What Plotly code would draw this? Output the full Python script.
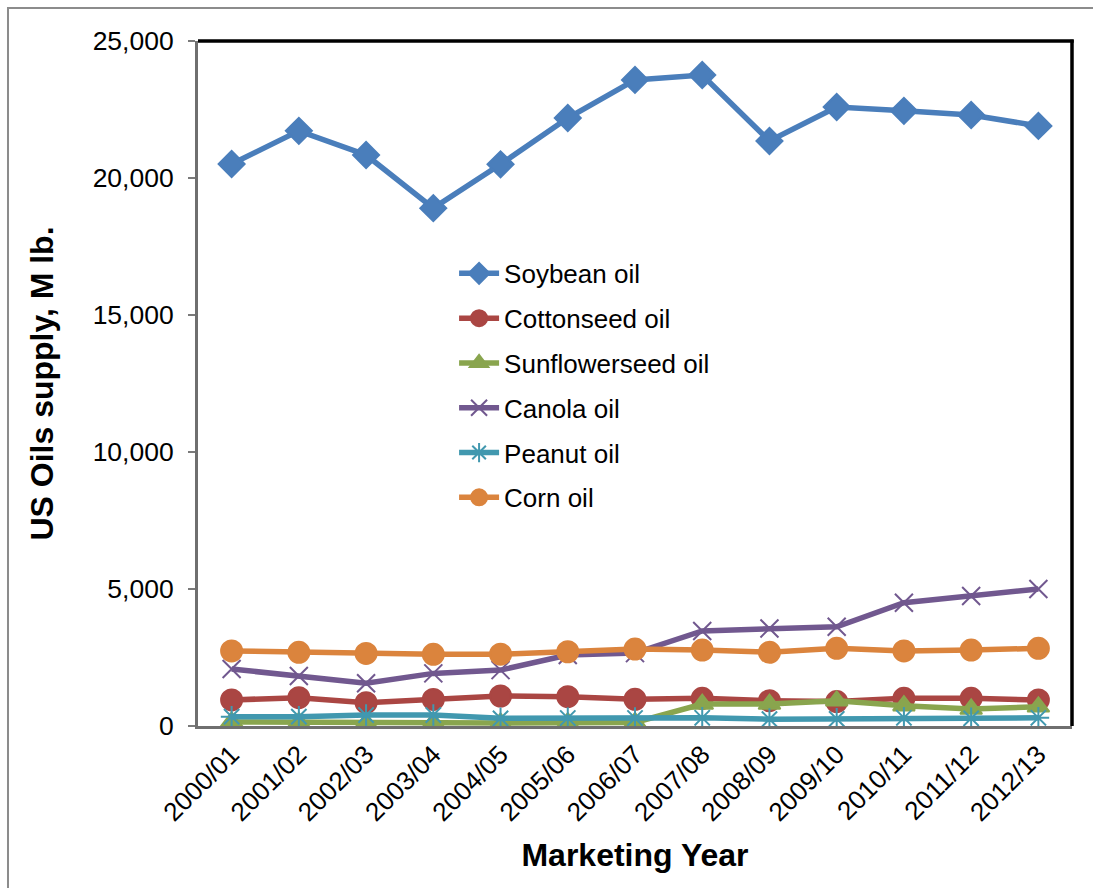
import plotly.graph_objects as go

years = ["2000/01", "2001/02", "2002/03", "2003/04", "2004/05", "2005/06", "2006/07",
         "2007/08", "2008/09", "2009/10", "2010/11", "2011/12", "2012/13"]

soybean = [20510, 21720, 20840, 18900, 20500, 22190, 23580, 23760, 21350, 22590, 22450, 22300, 21900]
cottonseed = [950, 1035, 850, 970, 1095, 1070, 975, 1010, 925, 890, 1010, 1010, 950]
sunflower = [150, 130, 110, 120, 110, 120, 130, 800, 800, 920, 740, 620, 700]
canola = [2080, 1825, 1560, 1920, 2040, 2590, 2660, 3470, 3560, 3620, 4500, 4745, 5000]
peanut = [340, 340, 400, 400, 280, 290, 290, 300, 250, 260, 300, 280, 300]
corn = [2740, 2690, 2650, 2615, 2620, 2710, 2810, 2770, 2690, 2835, 2740, 2770, 2835]

series = [
    ("Soybean oil", soybean, "#4A7EBB", "diamond", 20),
    ("Cottonseed oil", cottonseed, "#AA4643", "circle", 21),
    ("Sunflowerseed oil", sunflower, "#89A54E", "triangle-up", 19),
    ("Canola oil", canola, "#71588F", "x-thin-open", 18),
    ("Peanut oil", peanut, "#4198AF", "asterisk-open", 18),
    ("Corn oil", corn, "#DB843D", "circle", 21),
]

fig = go.Figure()
for i, (name, vals, col, sym, sz) in enumerate(series):
    fig.add_trace(go.Scatter(
        x=years, y=vals, name=name, mode="lines+markers",
        line=dict(color=col, width=5.5),
        marker=dict(symbol=sym, size=sz, color=col, line=dict(color=col, width=2)),
        legendgroup=f"g{i}",
    ))

fig.update_layout(
    width=1093, height=888,
    margin=dict(l=198, r=21, t=41, b=162),
    paper_bgcolor="white", plot_bgcolor="white",
    font=dict(family="Liberation Sans, Arial, sans-serif", color="black", size=26),
    showlegend=True,
    legend=dict(x=0.293, y=0.695, xanchor="left", yanchor="top",
                font=dict(size=26), bgcolor="rgba(0,0,0,0)", tracegroupgap=8,
                itemwidth=40),
    xaxis=dict(type="category", range=[-0.5, 12.5], tickangle=-45,
               tickfont=dict(size=26), showline=True, linecolor="#6f6f6f", linewidth=3,
               ticks="", showgrid=False, zeroline=False,
               title=dict(text="<b>Marketing Year</b>", font=dict(size=32), standoff=18)),
    yaxis=dict(range=[0, 25000], dtick=5000, tickformat=",", tickfont=dict(size=26.5),
               showline=True, linecolor="#6f6f6f", linewidth=3,
               ticks="outside", ticklen=7, tickwidth=1.5, tickcolor="#7a7a7a",
               ticklabelstandoff=9,
               showgrid=False, zeroline=False,
               title=dict(text="<b>US Oils supply, M lb.</b>", font=dict(size=32), standoff=30)),
    shapes=[
        dict(type="line", xref="paper", yref="paper", x0=0, x1=1.002, y0=1, y1=1,
             line=dict(color="black", width=3.5)),
        dict(type="line", xref="paper", yref="paper", x0=1, x1=1, y0=0, y1=1.002,
             line=dict(color="black", width=3.5)),
        dict(type="rect", xref="paper", yref="paper", x0=-0.2174, x1=1.2, y0=-0.4, y1=1.0482,
             line=dict(color="#8c8c8c", width=2), layer="below"),
    ],
)

fig.write_html("out.html")
